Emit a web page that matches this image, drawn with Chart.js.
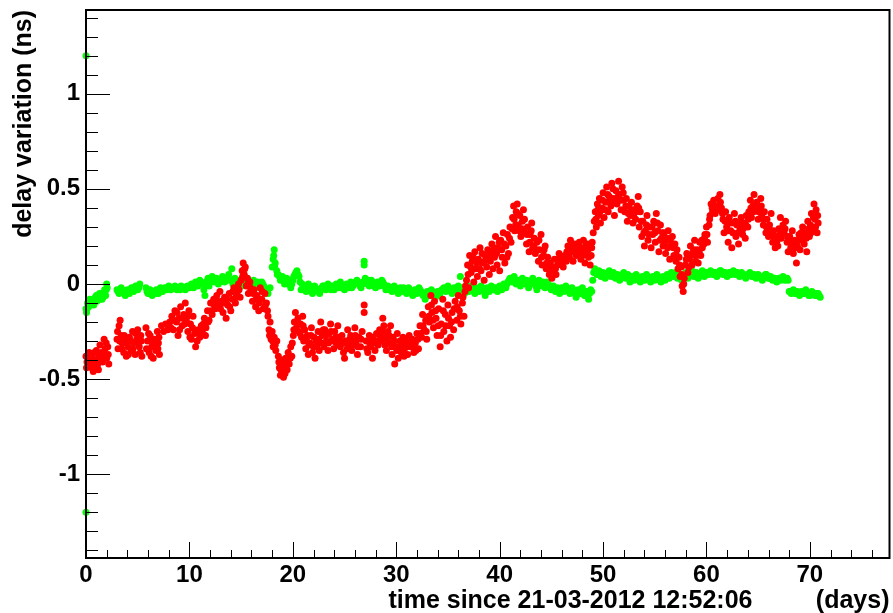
<!DOCTYPE html>
<html>
<head>
<meta charset="utf-8">
<script src="https://cdn.jsdelivr.net/npm/chart.js@4"></script>
<style>
html,body{margin:0;padding:0;background:#fff;}
canvas{display:block;}
</style>
</head>
<body>
<canvas id="c" width="893" height="613"></canvas>
<script>
// ---- data (days, ns) ----
const xTicks = [0, 10, 20, 30, 40, 50, 60, 70];
const xTickLabels = ['0', '10', '20', '30', '40', '50', '60', '70'];
const yTicks = [-1, -0.5, 0, 0.5, 1];
const yTickLabels = ['-1', '-0.5', '0', '0.5', '1'];
const xRange = [0, 77.7];
const yRange = [-1.44, 1.44];
const xTitle = 'time since 21-03-2012 12:52:06';
const xUnit = '(days)';
const yTitle = 'delay variation (ns)';

const redPoints = [
[0.0,-0.38],[0.05,-0.44],[0.2,-0.40],[0.3,-0.36],[0.45,-0.42],[0.6,-0.38],[0.7,-0.46],[0.85,-0.40],[1.0,-0.35],[1.1,-0.43],[1.25,-0.38],[1.35,-0.32],[1.5,-0.36],[1.6,-0.41],[1.75,-0.29],[1.85,-0.34],[2.0,-0.39],[2.1,-0.33],[2.2,-0.42],
[3.0,-0.29],[3.1,-0.34],[3.2,-0.22],[3.3,-0.19],[3.4,-0.27],[3.5,-0.31],[3.65,-0.36],[3.8,-0.30],[3.9,-0.38],[4.05,-0.33],[4.2,-0.28],[4.35,-0.35],[4.5,-0.25],[4.6,-0.31],[4.75,-0.37],[4.9,-0.29],[5.0,-0.24],[5.15,-0.33],[5.3,-0.27],[5.4,-0.38],
[5.8,-0.23],[5.95,-0.30],[6.1,-0.36],[6.2,-0.27],[6.35,-0.33],[6.5,-0.39],[6.6,-0.29],[6.75,-0.35],[6.9,-0.25],[7.0,-0.31],[7.1,-0.37],
[7.3,-0.22],[7.5,-0.25],[7.7,-0.21],[7.9,-0.24],[8.1,-0.20],
[8.3,-0.17],[8.45,-0.24],[8.6,-0.14],[8.75,-0.20],[8.9,-0.27],[9.0,-0.18],[9.15,-0.12],[9.3,-0.22],[9.45,-0.16],
[9.6,-0.10],[9.7,-0.19],[9.85,-0.25],[9.95,-0.14],[10.1,-0.21],[10.2,-0.29],[10.35,-0.17],
[10.5,-0.26],[10.6,-0.33],[10.75,-0.30],[10.85,-0.24],
[11.0,-0.28],[11.15,-0.22],[11.3,-0.26],[11.45,-0.18],[11.6,-0.23],[11.75,-0.14],[11.9,-0.19],[12.05,-0.10],[12.2,-0.16],[12.35,-0.08],[12.5,-0.13],[12.65,-0.06],
[12.8,-0.12],[12.95,-0.04],[13.1,-0.09],[13.25,-0.15],[13.4,-0.07],[13.55,-0.18],[13.7,-0.11],[13.85,-0.05],[14.0,-0.14],[14.15,-0.08],[14.3,-0.02],[14.45,-0.10],[14.6,-0.05],[14.75,0.0],[14.9,-0.07],
[15.0,0.02],[15.1,0.07],[15.2,0.11],[15.3,0.05],[15.4,0.09],[15.5,-0.01],[15.6,0.03],[15.7,-0.05],[15.85,0.01],[15.95,-0.04],
[16.1,-0.09],[16.25,-0.03],[16.4,-0.12],[16.55,-0.06],[16.7,-0.14],[16.85,-0.02],[17.0,-0.08],[17.15,-0.13],[17.3,-0.05],[17.45,-0.10],
[17.6,-0.17],[17.7,-0.24],[17.8,-0.20],[17.9,-0.29],[18.0,-0.25],[18.1,-0.33],[18.2,-0.28],[18.35,-0.35],[18.45,-0.30],
[18.6,-0.38],[18.7,-0.44],[18.8,-0.48],[18.9,-0.41],[19.0,-0.46],[19.1,-0.49],[19.2,-0.43],[19.3,-0.39],[19.45,-0.45],[19.55,-0.36],[19.65,-0.42],[19.8,-0.33],[19.9,-0.38],
[20.05,-0.27],[20.15,-0.20],[20.25,-0.15],[20.35,-0.23],[20.5,-0.18],[20.6,-0.25],[20.75,-0.21],[20.85,-0.28],[20.95,-0.17],[21.05,-0.30],[21.15,-0.24],[21.25,-0.34],[21.4,-0.27],[21.5,-0.37],
[21.65,-0.31],[21.8,-0.23],[21.9,-0.36],[22.05,-0.28],[22.15,-0.39],[22.3,-0.33],[22.45,-0.25],[22.55,-0.35],
[22.7,-0.20],[22.85,-0.27],[23.0,-0.33],[23.1,-0.24],[23.25,-0.30],[23.4,-0.35],[23.5,-0.26],[23.65,-0.21],[23.8,-0.29],[23.95,-0.34],[24.05,-0.25],[24.2,-0.31],[24.35,-0.22],[24.45,-0.28],
[24.6,-0.33],[24.75,-0.27],[24.9,-0.36],[25.0,-0.39],[25.15,-0.30],[25.3,-0.24],[25.45,-0.32],[25.6,-0.27],[25.7,-0.35],[25.85,-0.29],[26.0,-0.23],[26.1,-0.31],[26.25,-0.37],[26.4,-0.28],[26.55,-0.33],[26.7,-0.25],
[26.9,-0.11],[26.9,-0.15],
[27.1,-0.30],[27.25,-0.36],[27.4,-0.27],[27.55,-0.33],[27.7,-0.39],[27.8,-0.29],[27.95,-0.35],[28.1,-0.26],[28.25,-0.32],
[28.4,-0.24],[28.55,-0.30],[28.7,-0.18],[28.8,-0.22],[28.95,-0.28],[29.05,-0.35],[29.2,-0.25],
[29.35,-0.31],[29.45,-0.22],[29.6,-0.37],[29.7,-0.28],[29.85,-0.42],[29.95,-0.33],[30.1,-0.26],[30.2,-0.39],[30.35,-0.30],[30.5,-0.36],
[30.65,-0.28],[30.8,-0.34],[30.95,-0.30],[31.1,-0.37],[31.25,-0.27],[31.4,-0.33],[31.55,-0.29],[31.7,-0.36],[31.85,-0.31],[32.0,-0.26],[32.15,-0.34],
[32.3,-0.22],[32.45,-0.28],[32.55,-0.16],[32.7,-0.24],[32.85,-0.19],[32.95,-0.29],
[33.1,-0.12],[33.2,-0.20],[33.35,-0.06],[33.45,-0.15],[33.6,-0.23],[33.7,-0.09],
[33.85,-0.18],[33.95,-0.27],[34.1,-0.13],[34.25,-0.33],[34.35,-0.21],[34.5,-0.08],[34.6,-0.25],[34.75,-0.16],[34.9,-0.30],
[35.0,-0.11],[35.15,-0.22],[35.25,-0.28],[35.4,-0.15],[35.55,-0.24],[35.7,-0.09],
[35.85,-0.19],[36.0,-0.06],[36.1,-0.14],[36.25,-0.21],[36.4,-0.10],[36.55,-0.17],[36.65,-0.04],
[36.8,0.02],[36.9,0.10],[37.0,-0.02],[37.1,0.15],[37.25,0.06],[37.35,0.12],[37.5,0.01],[37.6,0.17],[37.7,0.08],
[37.85,0.04],[37.95,0.13],[38.1,0.19],[38.2,0.07],[38.35,0.11],[38.5,0.02],[38.6,0.15],[38.75,0.09],[38.85,0.18],[39.0,0.05],[39.1,0.12],[39.25,0.21],[39.35,0.08],[39.5,0.14],[39.6,0.25],
[39.75,0.10],[39.85,0.19],[40.0,0.07],[40.1,0.23],[40.25,0.14],[40.35,0.27],[40.5,0.11],[40.6,0.20],[40.75,0.26],[40.85,0.16],[41.0,0.30],
[41.1,0.22],[41.25,0.35],[41.35,0.41],[41.45,0.28],[41.6,0.38],[41.7,0.42],[41.8,0.31],[41.95,0.36],[42.05,0.25],[42.2,0.33],[42.3,0.39],[42.45,0.27],
[42.6,0.21],[42.7,0.30],[42.85,0.17],[42.95,0.26],[43.1,0.32],[43.2,0.19],[43.35,0.24],[43.45,0.16],
[43.6,0.22],[43.75,0.12],[43.85,0.18],[44.0,0.26],[44.1,0.10],[44.25,0.15],[44.4,0.20],
[44.5,0.08],[44.65,0.14],[44.8,0.05],[44.9,0.11],[45.05,0.03],[45.2,0.09],[45.3,0.13],[45.45,0.05],[45.6,0.10],
[45.75,0.16],[45.9,0.11],[46.0,0.14],[46.15,0.09],[46.3,0.15],[46.45,0.12],
[46.6,0.20],[46.75,0.14],[46.85,0.23],[47.0,0.17],[47.1,0.12],[47.25,0.21],[47.4,0.15],[47.55,0.19],
[47.7,0.22],[47.85,0.13],[47.95,0.18],[48.1,0.23],[48.25,0.11],[48.35,0.17],[48.5,0.21],[48.6,0.14],[48.75,0.10],[48.9,0.19],
[49.05,0.27],[49.15,0.33],[49.25,0.38],[49.35,0.30],[49.45,0.42],[49.55,0.36],
[49.65,0.45],[49.75,0.32],[49.9,0.40],[50.0,0.48],[50.1,0.35],[50.25,0.43],[50.35,0.51],[50.5,0.38],[50.6,0.46],[50.75,0.41],[50.85,0.53],[51.0,0.45],[51.1,0.36],[51.25,0.49],[51.35,0.42],[51.5,0.54],[51.6,0.47],[51.75,0.39],[51.85,0.51],[52.0,0.44],
[52.1,0.38],[52.25,0.45],[52.35,0.33],[52.5,0.41],[52.65,0.36],[52.75,0.43],[52.9,0.32],[53.0,0.39],[53.15,0.34],[53.3,0.41],
[53.4,0.46],[53.5,0.30],[53.6,0.38],[53.75,0.25],[53.85,0.33],[54.0,0.20],[54.1,0.28],[54.25,0.36],[54.35,0.23],
[54.5,0.30],[54.65,0.19],[54.8,0.26],[54.9,0.33],[55.05,0.22],[55.15,0.37],[55.3,0.28],[55.4,0.17],[55.55,0.31],[55.65,0.24],[55.8,0.20],[55.9,0.27],
[56.05,0.16],[56.2,0.24],[56.3,0.28],[56.45,0.13],[56.55,0.20],[56.7,0.25],[56.85,0.15],[56.95,0.21],
[57.05,0.12],[57.15,0.18],[57.25,0.08],[57.35,0.14],[57.45,0.04],[57.55,0.09],[57.65,-0.01],[57.75,-0.04],[57.85,0.03],
[57.95,0.10],[58.1,0.16],[58.2,0.06],[58.35,0.13],[58.45,0.20],[58.6,0.10],[58.7,0.17],[58.85,0.23],[58.95,0.12],[59.1,0.18],[59.2,0.11],[59.35,0.22],[59.45,0.15],[59.6,0.19],
[59.75,0.21],[59.85,0.26],[60.0,0.30],[60.1,0.22],[60.25,0.31],
[60.35,0.36],[60.45,0.42],[60.6,0.38],[60.7,0.44],[60.85,0.37],[60.95,0.41],[61.1,0.45],[61.2,0.39],[61.3,0.47],[61.45,0.40],
[61.6,0.34],[61.7,0.27],[61.85,0.38],[61.95,0.30],[62.1,0.22],[62.2,0.35],[62.35,0.28],[62.45,0.19],[62.6,0.32],[62.7,0.37],[62.85,0.25],[62.95,0.31],[63.1,0.21],
[63.25,0.29],[63.35,0.35],[63.5,0.26],[63.6,0.32],[63.75,0.24],[63.85,0.36],[64.0,0.30],
[64.1,0.38],[64.25,0.44],[64.35,0.35],[64.5,0.41],[64.6,0.47],[64.75,0.39],[64.85,0.43],[65.0,0.34],[65.1,0.40],[65.25,0.45],[65.35,0.36],
[65.5,0.31],[65.6,0.38],[65.75,0.27],[65.85,0.34],[66.0,0.25],[66.1,0.31],[66.25,0.37],
[66.4,0.22],[66.5,0.28],[66.65,0.19],[66.75,0.25],[66.9,0.20],
[67.0,0.29],[67.15,0.35],[67.25,0.24],[67.4,0.31],[67.5,0.27],[67.65,0.33],
[67.8,0.22],[67.9,0.17],[68.05,0.25],[68.15,0.19],[68.3,0.28],[68.4,0.16],[68.55,0.23],[68.7,0.11],[68.8,0.20],
[68.95,0.26],[69.05,0.18],[69.2,0.23],[69.3,0.30],[69.45,0.21],[69.55,0.27],[69.7,0.17],[69.8,0.33],
[69.95,0.25],[70.05,0.31],[70.15,0.37],[70.3,0.29],[70.4,0.42],[70.5,0.34],[70.6,0.39],[70.7,0.27],[70.8,0.32]
];

// further red samples (fills between the points above)
const redPointsMore = [
[0.1,-0.41],[0.4,-0.39],[0.55,-0.44],[0.8,-0.36],[0.95,-0.42],[1.2,-0.45],[1.45,-0.40],[1.7,-0.37],[1.95,-0.31],[2.15,-0.37],
[3.05,-0.25],[3.25,-0.30],[3.45,-0.34],[3.7,-0.27],[3.95,-0.31],[4.1,-0.37],[4.3,-0.30],[4.55,-0.34],[4.8,-0.26],[5.05,-0.31],[5.25,-0.36],[5.35,-0.30],
[5.85,-0.34],[6.05,-0.26],[6.3,-0.38],[6.45,-0.30],[6.7,-0.32],[6.95,-0.34],[7.05,-0.28],
[8.2,-0.23],[8.5,-0.19],[8.8,-0.15],[9.05,-0.24],[9.35,-0.18],[9.55,-0.21],[9.8,-0.17],[10.05,-0.28],[10.3,-0.23],
[11.05,-0.25],[11.35,-0.21],[11.55,-0.27],[11.8,-0.20],[12.1,-0.14],[12.4,-0.11],[12.7,-0.09],[13.0,-0.13],[13.3,-0.10],[13.6,-0.08],[13.9,-0.12],[14.2,-0.04],[14.5,-0.07],[14.8,-0.03],
[15.15,0.04],[15.35,0.08],[15.65,0.0],[15.9,-0.02],[16.15,-0.05],[16.45,-0.08],[16.75,-0.10],[17.05,-0.04],[17.35,-0.11],[17.55,-0.14],[17.75,-0.27],[18.05,-0.30],[18.3,-0.32],
[18.65,-0.41],[18.85,-0.45],[19.05,-0.40],[19.25,-0.47],[19.5,-0.40],[19.75,-0.39],[19.95,-0.31],
[20.1,-0.24],[20.4,-0.20],[20.7,-0.26],[21.0,-0.22],[21.3,-0.29],[21.55,-0.32],[21.75,-0.27],[22.0,-0.33],[22.25,-0.30],[22.5,-0.29],[22.75,-0.31],[22.95,-0.24],[23.2,-0.27],[23.45,-0.31],[23.7,-0.25],[23.9,-0.30],[24.15,-0.28],[24.4,-0.32],[24.65,-0.30],[24.95,-0.31],[25.25,-0.34],[25.5,-0.29],[25.8,-0.32],[26.05,-0.27],[26.3,-0.33],[26.6,-0.29],
[27.15,-0.34],[27.45,-0.31],[27.65,-0.28],[27.9,-0.31],[28.15,-0.30],[28.45,-0.27],[28.65,-0.25],[28.9,-0.32],[29.1,-0.29],[29.3,-0.27],[29.55,-0.33],[29.8,-0.30],[30.05,-0.35],[30.3,-0.33],[30.55,-0.31],[30.75,-0.38],[31.0,-0.33],[31.3,-0.31],[31.6,-0.33],[31.9,-0.35],[32.1,-0.29],[32.35,-0.26],[32.6,-0.22],[32.9,-0.25],
[33.15,-0.17],[33.4,-0.11],[33.55,-0.19],[33.8,-0.14],[34.05,-0.22],[34.3,-0.27],[34.55,-0.14],[34.8,-0.22],[35.05,-0.18],[35.35,-0.20],[35.6,-0.13],[35.9,-0.12],[36.2,-0.17],[36.45,-0.07],[36.7,-0.01],
[36.95,0.05],[37.2,0.09],[37.45,0.14],[37.8,0.11],[38.05,0.08],[38.3,0.16],[38.55,0.12],[38.95,0.14],[39.2,0.16],[39.45,0.19],[39.7,0.16],[39.95,0.22],[40.2,0.18],[40.45,0.21],[40.7,0.14],[40.95,0.24],[41.2,0.29],[41.4,0.34],[41.55,0.31],[41.75,0.37],[41.9,0.28],[42.15,0.29],[42.4,0.34],[42.65,0.26],[42.9,0.22],[43.05,0.28],[43.3,0.20],[43.55,0.18],[43.8,0.23],[44.05,0.14],[44.3,0.18],[44.55,0.11],[44.85,0.08],[45.1,0.07],[45.4,0.08],[45.65,0.13],[45.95,0.13],[46.2,0.12],[46.5,0.17],[46.8,0.18],[47.05,0.20],[47.35,0.18],[47.6,0.16],[47.8,0.19],[48.05,0.15],[48.3,0.20],[48.55,0.18],[48.85,0.15],[48.95,0.22],
[49.3,0.34],[49.5,0.39],[49.7,0.38],[49.95,0.44],[50.2,0.39],[50.45,0.47],[50.7,0.44],[50.95,0.50],[51.2,0.43],[51.45,0.46],[51.7,0.44],[51.95,0.48],[52.2,0.41],[52.45,0.37],[52.7,0.39],[52.95,0.36],[53.2,0.38],[53.45,0.40],[53.7,0.33],[53.95,0.27],[54.2,0.31],[54.45,0.26],[54.75,0.30],[55.0,0.27],[55.25,0.32],[55.5,0.23],[55.75,0.27],[56.0,0.22],[56.25,0.19],[56.5,0.23],[56.8,0.19],[57.1,0.15],[57.4,0.10],[57.6,0.05],[57.8,0.0],
[58.05,0.13],[58.3,0.09],[58.55,0.15],[58.8,0.18],[59.05,0.15],[59.3,0.17],[59.55,0.23],[59.8,0.24],[60.05,0.26],[60.3,0.34],[60.55,0.40],[60.8,0.41],[61.05,0.40],[61.35,0.43],[61.55,0.37],[61.8,0.33],[62.05,0.28],[62.3,0.32],[62.55,0.27],[62.8,0.33],[63.05,0.27],[63.3,0.32],[63.55,0.29],[63.8,0.31],[64.05,0.34],[64.3,0.40],[64.55,0.38],[64.8,0.41],[65.05,0.38],[65.3,0.41],[65.55,0.34],[65.8,0.30],[66.05,0.29],[66.3,0.27],[66.55,0.24],[66.85,0.23],[67.1,0.26],[67.35,0.28],[67.6,0.29],[67.85,0.25],[68.1,0.22],[68.35,0.22],[68.6,0.19],[68.9,0.23],[69.15,0.27],[69.4,0.25],[69.65,0.24],[69.9,0.29],[70.1,0.27],[70.35,0.35],[70.55,0.30],[70.75,0.36]
];

const greenPoints = [
[0.0,1.2],[0.0,-1.2],
[0.0,-0.13],[0.05,-0.15],[0.15,-0.10],[0.25,-0.12],[0.35,-0.08],[0.45,-0.11],
[0.6,-0.09],[0.75,-0.11],[0.9,-0.07],[1.05,-0.09],[1.2,-0.06],[1.35,-0.08],[1.5,-0.05],[1.65,-0.07],[1.8,-0.03],[1.9,-0.06],[2.0,0.0],[2.05,-0.02],
[3.0,-0.03],[3.2,-0.05],[3.4,-0.02],[3.6,-0.04],[3.8,-0.06],[4.0,-0.03],[4.2,-0.05],[4.4,-0.02],[4.6,-0.04],[4.8,-0.01],[5.0,-0.03],[5.2,0.0],
[5.8,-0.02],[6.0,-0.05],[6.2,-0.03],[6.4,-0.06],[6.6,-0.04],[6.8,-0.03],[7.0,-0.05],[7.2,-0.02],[7.4,-0.04],
[7.6,-0.02],[7.8,-0.03],[8.0,-0.01],[8.2,-0.03],[8.4,-0.02],[8.6,-0.01],[8.8,-0.03],[9.0,-0.02],[9.2,-0.01],[9.4,-0.02],[9.6,-0.03],[9.8,-0.01],[10.0,-0.02],
[10.2,0.0],[10.4,-0.02],[10.6,0.01],[10.8,-0.01],[11.0,0.02],[11.2,0.0],[11.4,-0.03],[11.5,-0.06],[11.6,0.01],[11.8,0.03],[11.9,-0.01],
[12.0,0.02],[12.2,0.04],[12.4,0.01],[12.6,0.03],[12.8,0.0],[13.0,0.02],[13.2,0.04],[13.4,0.01],[13.6,0.03],[13.8,0.05],[14.0,0.02],[14.1,0.08],[14.2,0.0],
[14.4,0.03],[14.6,0.01],[14.8,0.02],[15.0,-0.01],[15.2,0.02],[15.4,0.0],[15.6,0.03],[15.8,0.01],[16.0,-0.01],[16.2,0.02],[16.4,0.0],[16.6,0.01],[16.8,-0.02],[17.0,0.01],[17.2,-0.01],
[17.4,-0.03],[17.6,-0.05],[17.8,-0.02],
[18.0,0.09],[18.1,0.13],[18.2,0.18],[18.3,0.11],[18.45,0.07],
[18.6,0.05],[18.8,0.02],[19.0,0.04],[19.2,0.0],[19.4,0.03],[19.6,0.01],[19.8,-0.02],[20.0,0.02],
[20.2,0.05],[20.4,0.07],[20.6,0.04],[20.8,-0.03],[20.9,0.0],
[21.1,-0.02],[21.3,-0.04],[21.5,0.0],[21.7,-0.02],[21.9,-0.05],[22.1,-0.01],[22.3,-0.03],
[22.6,-0.05],[22.8,-0.02],[23.0,-0.01],[23.2,-0.03],[23.4,0.0],[23.6,-0.02],[23.8,-0.01],[24.0,-0.03],[24.2,0.0],[24.4,-0.02],[24.6,0.01],[24.8,-0.01],[25.0,-0.03],[25.2,0.0],[25.4,-0.02],[25.6,0.01],[25.8,-0.01],[26.0,0.0],
[26.9,0.12],[26.9,0.10],
[26.2,0.02],[26.4,0.0],[26.6,-0.02],[26.8,0.01],[27.0,0.03],[27.2,0.0],[27.4,-0.01],[27.6,0.02],[27.8,0.0],[28.0,-0.02],[28.2,0.01],[28.4,-0.01],[28.6,0.02],[28.8,0.0],[29.0,-0.03],[29.2,-0.01],
[29.4,-0.02],[29.6,-0.04],[29.8,-0.01],[30.0,-0.03],[30.2,-0.05],[30.4,-0.02],[30.6,-0.04],[30.8,-0.03],[31.0,-0.05],[31.2,-0.02],[31.4,-0.04],[31.6,-0.06],[31.8,-0.03],[32.0,-0.05],[32.2,-0.02],[32.4,-0.04],
[32.6,-0.06],[32.8,-0.08],[33.0,-0.04],[33.2,-0.06],[33.4,-0.03],[33.6,-0.05],[33.8,-0.07],[34.0,-0.04],[34.2,-0.06],[34.4,-0.03],
[34.6,-0.02],[34.8,-0.04],[35.0,-0.01],[35.2,-0.03],[35.4,-0.05],[35.6,-0.02],[35.8,-0.04],[36.0,-0.01],[36.2,0.04],[36.4,-0.03],[36.6,-0.05],[36.8,-0.02],[37.0,-0.04],[37.2,-0.01],[37.4,-0.03],[37.6,-0.05],[37.8,-0.02],[38.0,-0.04],[38.2,-0.01],[38.4,-0.03],[38.6,-0.06],[38.8,-0.02],[39.0,-0.04],[39.2,-0.01],[39.4,-0.03],[39.6,-0.02],
[39.8,-0.04],[40.0,-0.01],[40.2,-0.03],[40.4,0.0],[40.6,-0.02],[40.8,0.01],[41.0,0.03],[41.2,0.01],[41.4,0.04],[41.6,0.0],[41.8,0.02],[42.0,-0.01],[42.2,0.03],[42.4,0.0],[42.6,0.02],[42.8,-0.02],[43.0,0.01],[43.2,0.03],[43.4,0.0],[43.6,-0.03],[43.8,0.02],[44.0,0.0],[44.2,0.01],[44.4,-0.02],[44.6,0.01],
[44.8,-0.01],[45.0,-0.03],[45.2,-0.01],[45.4,-0.04],[45.6,-0.02],[45.8,-0.05],[46.0,-0.02],[46.2,-0.04],[46.4,-0.01],[46.6,-0.03],[46.8,-0.05],[47.0,-0.02],[47.2,-0.04],[47.4,-0.07],[47.6,-0.03],[47.8,-0.05],[48.0,-0.02],[48.2,-0.06],[48.4,-0.04],[48.6,-0.08],[48.8,-0.03],
[49.0,0.02],[49.1,0.06],[49.2,0.08],
[49.4,0.05],[49.6,0.07],[49.8,0.04],[50.0,0.06],[50.2,0.03],[50.4,0.05],[50.6,0.07],[50.8,0.04],[51.0,0.06],[51.2,0.03],[51.4,0.05],[51.6,0.02],[51.8,0.04],[52.0,0.06],[52.2,0.03],[52.4,0.05],[52.6,0.01],[52.8,0.04],[53.0,0.02],[53.2,0.05],[53.4,0.03],[53.6,0.01],[53.8,0.04],[54.0,0.02],[54.2,0.05],[54.4,0.03],
[54.6,0.01],[54.8,0.04],[55.0,0.02],[55.2,0.05],[55.4,0.03],[55.6,0.01],[55.8,0.04],[56.0,0.02],[56.2,0.05],[56.4,0.03],[56.6,0.06],
[56.8,0.04],[57.0,0.06],[57.2,0.03],[57.4,0.05],[57.6,0.02],[57.8,0.04],[58.0,0.06],[58.2,0.03],[58.4,0.05],[58.6,0.07],[58.8,0.04],[59.0,0.06],[59.2,0.03],[59.4,0.05],[59.6,0.07],[59.8,0.04],
[60.0,0.06],[60.2,0.05],[60.4,0.07],[60.6,0.05],[60.8,0.06],[61.0,0.04],[61.2,0.06],[61.4,0.07],[61.6,0.05],[61.8,0.06],[62.0,0.04],[62.2,0.06],[62.4,0.05],[62.6,0.07],[62.8,0.05],[63.0,0.06],
[63.2,0.04],[63.4,0.06],[63.6,0.05],[63.8,0.03],[64.0,0.05],[64.2,0.06],[64.4,0.04],[64.6,0.05],[64.8,0.03],[65.0,0.05],[65.2,0.04],[65.4,0.02],[65.6,0.04],[65.8,0.05],[66.0,0.03],[66.2,0.04],[66.4,0.02],[66.6,0.03],[66.8,0.01],[67.0,0.03],[67.2,0.02],[67.4,0.04],[67.6,0.02],[67.8,0.03],
[68.0,-0.04],[68.2,-0.05],[68.4,-0.03],[68.6,-0.05],[68.8,-0.04],[69.0,-0.06],[69.2,-0.04],[69.4,-0.05],[69.6,-0.03],[69.8,-0.05],[70.0,-0.06],[70.2,-0.04],[70.4,-0.05],[70.6,-0.06],[70.8,-0.05],[71.0,-0.07]
];

// further green samples
const greenPointsMore = [
[0.1,-0.13],[0.3,-0.10],[0.5,-0.09],[0.7,-0.08],[1.0,-0.06],[1.3,-0.05],[1.55,-0.08],[1.75,-0.05],[1.95,-0.03],
[3.1,-0.04],[3.5,-0.03],[3.9,-0.04],[4.3,-0.03],[4.7,-0.03],[5.1,-0.02],
[5.9,-0.04],[6.3,-0.04],[6.7,-0.05],[7.1,-0.03],[7.5,-0.03],[7.9,-0.02],[8.3,-0.02],[8.7,-0.02],[9.1,-0.03],[9.5,-0.02],[9.9,-0.02],[10.3,-0.01],[10.7,0.0],[11.1,0.01],[11.7,0.0],[12.1,0.03],[12.5,0.02],[12.9,0.01],[13.3,0.03],[13.7,0.02],[14.3,0.02],[14.7,0.0],[15.1,0.01],[15.5,0.02],[15.9,0.0],[16.3,0.01],[16.7,0.0],[17.1,0.0],[17.5,-0.04],
[18.15,0.15],[18.25,0.09],[18.5,0.05],[18.7,0.04],[18.9,0.03],[19.1,0.02],[19.3,0.02],[19.5,0.0],[19.7,0.02],[19.9,0.0],[20.1,0.04],[20.3,0.06],[20.5,0.05],[20.7,0.01],
[21.0,-0.03],[21.2,-0.01],[21.4,-0.03],[21.6,-0.01],[21.8,-0.03],[22.0,-0.03],[22.2,-0.02],[22.45,-0.04],[22.7,-0.03],[22.9,-0.01],[23.1,-0.02],[23.3,-0.01],[23.5,-0.02],[23.7,-0.03],[23.9,-0.02],[24.1,-0.01],[24.3,-0.01],[24.5,0.0],[24.7,-0.02],[24.9,-0.02],[25.1,-0.01],[25.3,-0.01],[25.5,0.0],[25.7,-0.02],[25.9,0.0],[26.1,0.01],[26.3,0.01],[26.5,-0.01],[26.7,0.0],[27.1,0.01],[27.3,0.02],[27.5,0.0],[27.7,0.01],[27.9,-0.01],[28.1,0.0],[28.3,0.0],[28.5,0.01],[28.7,0.01],[28.9,-0.01],[29.1,-0.02],[29.3,-0.03],[29.5,-0.03],[29.7,-0.02],[29.9,-0.02],[30.1,-0.04],[30.3,-0.03],[30.5,-0.03],[30.7,-0.02],[30.9,-0.04],[31.1,-0.03],[31.3,-0.03],[31.5,-0.05],[31.7,-0.04],[31.9,-0.04],[32.1,-0.03],[32.3,-0.03],[32.5,-0.05],[32.7,-0.05],[32.9,-0.06],[33.1,-0.05],[33.3,-0.04],[33.5,-0.04],[33.7,-0.06],[33.9,-0.05],[34.1,-0.05],[34.3,-0.04],[34.5,-0.03],[34.7,-0.03],[34.9,-0.02],[35.1,-0.02],[35.3,-0.04],[35.5,-0.03],[35.7,-0.03],[35.9,-0.02],[36.1,-0.02],[36.3,-0.02],[36.5,-0.04],[36.7,-0.03],[36.9,-0.03],[37.1,-0.02],[37.3,-0.02],[37.5,-0.04],[37.7,-0.03],[37.9,-0.03],[38.1,-0.02],[38.3,-0.02],[38.5,-0.04],[38.7,-0.04],[38.9,-0.03],[39.1,-0.02],[39.3,-0.02],[39.5,-0.03],[39.7,-0.03],[39.9,-0.02],[40.1,-0.02],[40.3,-0.01],[40.5,-0.01],[40.7,0.0],[40.9,0.02],[41.1,0.02],[41.3,0.02],[41.5,0.02],[41.7,0.01],[41.9,0.01],[42.1,0.01],[42.3,0.01],[42.5,0.01],[42.7,0.0],[42.9,0.0],[43.1,0.02],[43.3,0.01],[43.5,-0.01],[43.7,0.0],[43.9,0.01],[44.1,-0.01],[44.3,0.0],[44.5,-0.01],[44.7,0.0],[44.9,-0.02],[45.1,-0.02],[45.3,-0.03],[45.5,-0.03],[45.7,-0.03],[45.9,-0.03],[46.1,-0.03],[46.3,-0.02],[46.5,-0.02],[46.7,-0.04],[46.9,-0.03],[47.1,-0.03],[47.3,-0.05],[47.5,-0.05],[47.7,-0.04],[47.9,-0.03],[48.1,-0.04],[48.3,-0.05],[48.5,-0.06],[48.7,-0.05],[48.9,-0.04],
[49.3,0.07],[49.5,0.06],[49.7,0.05],[49.9,0.05],[50.1,0.05],[50.3,0.04],[50.5,0.06],[50.7,0.05],[50.9,0.05],[51.1,0.04],[51.3,0.04],[51.5,0.03],[51.7,0.03],[51.9,0.05],[52.1,0.04],[52.3,0.04],[52.5,0.03],[52.7,0.02],[52.9,0.03],[53.1,0.03],[53.3,0.04],[53.5,0.02],[53.7,0.03],[53.9,0.03],[54.1,0.04],[54.3,0.04],[54.5,0.02],[54.7,0.03],[54.9,0.03],[55.1,0.04],[55.3,0.04],[55.5,0.02],[55.7,0.03],[55.9,0.03],[56.1,0.04],[56.3,0.04],[56.5,0.05],[56.7,0.05],[56.9,0.05],[57.1,0.05],[57.3,0.04],[57.5,0.04],[57.7,0.03],[57.9,0.05],[58.1,0.05],[58.3,0.04],[58.5,0.06],[58.7,0.06],[58.9,0.05],[59.1,0.05],[59.3,0.04],[59.5,0.06],[59.7,0.06],[59.9,0.05],[60.1,0.06],[60.3,0.06],[60.5,0.06],[60.7,0.06],[60.9,0.05],[61.1,0.05],[61.3,0.07],[61.5,0.06],[61.7,0.06],[61.9,0.05],[62.1,0.05],[62.3,0.06],[62.5,0.06],[62.7,0.06],[62.9,0.06],[63.1,0.05],[63.3,0.05],[63.5,0.05],[63.7,0.04],[63.9,0.04],[64.1,0.05],[64.3,0.05],[64.5,0.05],[64.7,0.04],[64.9,0.04],[65.1,0.04],[65.3,0.03],[65.5,0.03],[65.7,0.05],[65.9,0.04],[66.1,0.03],[66.3,0.03],[66.5,0.03],[66.7,0.02],[66.9,0.02],[67.1,0.03],[67.3,0.03],[67.5,0.03],[67.7,0.03],[67.9,0.02],
[68.1,-0.04],[68.3,-0.04],[68.5,-0.04],[68.7,-0.05],[68.9,-0.05],[69.1,-0.05],[69.3,-0.05],[69.5,-0.04],[69.7,-0.04],[69.9,-0.06],[70.1,-0.05],[70.3,-0.05],[70.5,-0.06],[70.7,-0.05],[70.9,-0.06]
];

// axis decoration
const xMinorStep = 2, yMinorStep = 0.1;
const FONT = '"Liberation Sans", Arial, Helvetica, sans-serif';

const framePlugin = {
  id: 'rootFrame',
  afterDraw(chart) {
    const ctx = chart.ctx;
    const a = chart.chartArea;
    const xs = chart.scales.x, ys = chart.scales.y;
    ctx.save();
    ctx.strokeStyle = '#000';
    ctx.lineWidth = 1;
    ctx.beginPath();
    for (let k = Math.ceil(yRange[0] / yMinorStep); k * yMinorStep <= yRange[1] + 1e-9; k++) {
      const p = Math.round(ys.getPixelForValue(k * yMinorStep)) + 0.5;
      const major = Math.abs(k % 5) === 0;
      ctx.moveTo(a.left, p);
      ctx.lineTo(a.left + (major ? 24 : 12), p);
    }
    for (let k = Math.ceil(xRange[0] / xMinorStep); k * xMinorStep <= xRange[1] + 1e-9; k++) {
      const p = Math.round(xs.getPixelForValue(k * xMinorStep)) + 0.5;
      const major = (k % 5) === 0;
      ctx.moveTo(p, a.bottom);
      ctx.lineTo(p, a.bottom - (major ? 16 : 8));
    }
    ctx.stroke();
    ctx.lineWidth = 2;
    ctx.strokeRect(a.left, a.top, a.right - a.left, a.bottom - a.top);
    ctx.fillStyle = '#000';
    ctx.font = 'bold 25px ' + FONT;
    ctx.textBaseline = 'alphabetic';
    ctx.textAlign = 'right';
    ctx.fillText(xUnit, a.right, 608);
    ctx.fillText(xTitle, a.right - 137, 608);
    ctx.translate(31, a.top);
    ctx.rotate(-Math.PI / 2);
    ctx.textAlign = 'right';
    ctx.fillText(yTitle, 0, 0);
    ctx.restore();
  }
};

const tickFont = { family: FONT, size: 24, weight: 'bold' };
const toXY = (p) => ({ x: p[0], y: p[1] });

new Chart(document.getElementById('c'), {
  type: 'scatter',
  data: {
    datasets: [
      {
        label: 'red',
        data: redPoints.concat(redPointsMore).map(toXY),
        backgroundColor: 'rgb(255,0,0)',
        borderWidth: 0,
        pointRadius: 3.5,
        pointHoverRadius: 3.5,
        clip: false
      },
      {
        label: 'green',
        data: greenPoints.concat(greenPointsMore).map(toXY),
        backgroundColor: 'rgb(0,255,0)',
        borderWidth: 0,
        pointRadius: 3.5,
        pointHoverRadius: 3.5,
        clip: false
      }
    ]
  },
  options: {
    responsive: false,
    animation: false,
    devicePixelRatio: 1,
    events: [],
    layout: { padding: { top: 10, right: 2, left: 0, bottom: 0 } },
    plugins: { legend: { display: false }, tooltip: { enabled: false } },
    scales: {
      x: {
        type: 'linear',
        min: xRange[0], max: xRange[1],
        grid: { display: false, drawTicks: false },
        border: { display: false },
        ticks: {
          font: tickFont, color: '#000', padding: 3, maxRotation: 0, autoSkip: false,
          callback: (v) => { const i = xTicks.indexOf(v); return i >= 0 ? xTickLabels[i] : ''; }
        },
        afterBuildTicks: (s) => { s.ticks = xTicks.map(v => ({ value: v })); },
        afterFit: (s) => { s.height = 55; s.paddingLeft = 0; s.paddingRight = 0; }
      },
      y: {
        type: 'linear',
        min: yRange[0], max: yRange[1],
        grid: { display: false, drawTicks: false },
        border: { display: false },
        ticks: {
          font: tickFont, color: '#000', padding: 6, autoSkip: false,
          callback: (v) => { const i = yTicks.indexOf(v); return i >= 0 ? yTickLabels[i] : ''; }
        },
        afterBuildTicks: (s) => { s.ticks = yTicks.map(v => ({ value: v })); },
        afterFit: (s) => { s.width = 86; s.paddingTop = 0; s.paddingBottom = 0; }
      }
    }
  },
  plugins: [framePlugin]
});
</script>
</body>
</html>
